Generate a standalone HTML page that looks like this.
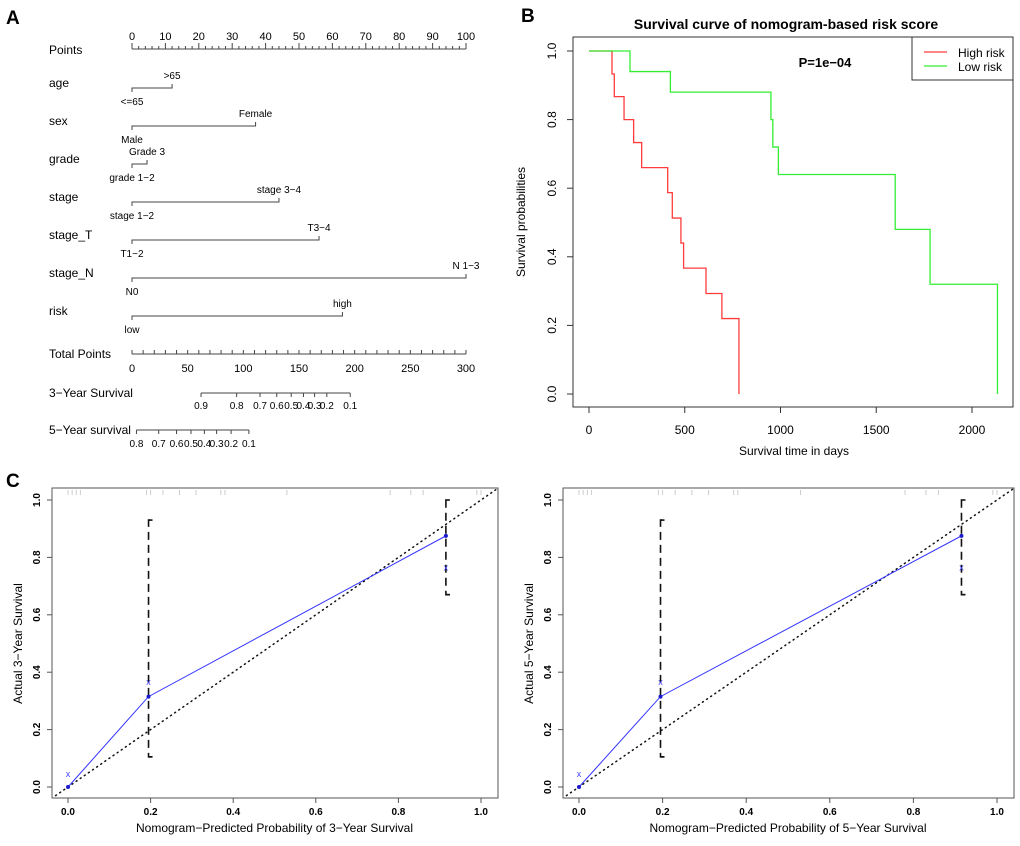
<!DOCTYPE html>
<html><head><meta charset="utf-8"><style>
body{margin:0;background:#fff}
svg{display:block;font-family:"Liberation Sans",Arial,sans-serif}
</style></head><body>
<svg id="s" width="1020" height="846" viewBox="0 0 1020 846" xmlns="http://www.w3.org/2000/svg">
<text x="6" y="24" font-size="19" font-weight="bold">A</text>
<text x="521" y="22" font-size="19" font-weight="bold">B</text>
<text x="6" y="487" font-size="19" font-weight="bold">C</text>
<g id="nomo"></g>
<g id="km"></g>
<g id="cal1"></g>
<g id="cal2"></g>
</svg>
<script>
// ---- Nomogram data ----
const nomoVars = ["age","sex","grade","stage","stage_T","stage_N","risk"];
const nomoLow = ["<=65","Male","grade 1\u22122","stage 1\u22122","T1\u22122","N0","low"];
const nomoHigh = [">65","Female","Grade 3","stage 3\u22124","T3\u22124","N 1\u22123","high"];
const nomoPoints = [12, 37, 4.5, 44, 56, 100, 63];
const surv3Labels = ["0.9","0.8","0.7","0.6","0.5","0.4","0.3","0.2","0.1"];
const surv3Total = [62, 94, 115, 130, 143, 154, 164, 175, 196];
const surv5Labels = ["0.8","0.7","0.6","0.5","0.4","0.3","0.2","0.1"];
const surv5Total = [4, 24, 40, 53, 65, 76, 89, 105];
// ---- KM data ----
const highT = [0,120,132,183,233,275,411,435,480,494,611,694,783];
const highS = [1,0.933,0.867,0.8,0.733,0.66,0.587,0.513,0.44,0.367,0.293,0.22,0];
const lowT = [0,214,425,950,960,989,1599,1781,2133];
const lowS = [1,0.94,0.88,0.8,0.72,0.64,0.48,0.32,0];
const kmXTicks = [0,500,1000,1500,2000];
const kmYTicks = [0,0.2,0.4,0.6,0.8,1.0];
// ---- Calibration data ----
const calPred = [0.0, 0.195, 0.915];
const calObs = [0.0, 0.315, 0.875];
const calCorr = [0.045, 0.365, 0.765];
const calLo = [null, 0.105, 0.67];
const calHi = [null, 0.93, 1.0];
const calTicks = [0,0.2,0.4,0.6,0.8,1.0];
const rug = [0,0.01,0.02,0.03,0.19,0.2,0.23,0.27,0.31,0.37,0.38,0.53,0.78,0.83,0.86,0.99,1.0];

const NS="http://www.w3.org/2000/svg";
function mk(p,tag,a,txt){const e=document.createElementNS(NS,tag);for(const k in a)e.setAttribute(k,a[k]);if(txt!=null)e.textContent=txt;p.appendChild(e);return e;}
function f(v){return (Math.round(v*10)/10).toFixed(1);}

// ---- Nomogram ----
(function(){
const g=document.getElementById('nomo');
const px=p=>132+p*3.34, tx=t=>132+t*334/300;
const fs=11;
// Points axis
let t=mk(g,'text',{x:49,y:54,'font-size':12});


t.textContent='Points';
mk(g,'line',{x1:px(0),y1:49,x2:px(100),y2:49,stroke:'#444'});
for(let i=0;i<=50;i++){const v=i*2;mk(g,'line',{x1:px(v),y1:49,x2:px(v),y2:v%10==0?43:46,stroke:'#444'});}
for(let v=0;v<=100;v+=10){const e=mk(g,'text',{x:px(v),y:40,'font-size':fs,'text-anchor':'middle'},String(v));

}
nomoVars.forEach((n,i)=>{
 const y=88+i*38;
 const lab=mk(g,'text',{x:49,y:y-1,'font-size':12},n);
 
 
 const x2=px(nomoPoints[i]);
 const ln=mk(g,'path',{d:`M${px(0)} ${y+4}V${y}H${x2}V${y-4}`,fill:'none',stroke:'#444'});
 
 
 mk(g,'text',{x:px(0),y:y+17,'font-size':fs-1,'text-anchor':'middle'},nomoLow[i]);
 mk(g,'text',{x:x2,y:y-9,'font-size':fs-1,'text-anchor':'middle'},nomoHigh[i]);
});
// Total points
let y=354;
t=mk(g,'text',{x:49,y:358,'font-size':12},'Total Points');


mk(g,'line',{x1:tx(0),y1:y,x2:tx(300),y2:y,stroke:'#444'});
for(let v=0;v<=300;v+=10)mk(g,'line',{x1:tx(v),y1:y,x2:tx(v),y2:y-4,stroke:'#444'});
for(let v=0;v<=300;v+=50)mk(g,'text',{x:tx(v),y:372,'font-size':fs,'text-anchor':'middle'},String(v));
// 3-year
y=393;
t=mk(g,'text',{x:49,y:397,'font-size':12},'3\u2212Year Survival');


mk(g,'line',{x1:tx(surv3Total[0]),y1:y,x2:tx(surv3Total[surv3Total.length-1]),y2:y,stroke:'#444'});
surv3Total.forEach((v,i)=>{mk(g,'line',{x1:tx(v),y1:y,x2:tx(v),y2:y+4,stroke:'#444'});mk(g,'text',{x:tx(v),y:409,'font-size':fs-1,'text-anchor':'middle'},surv3Labels[i]);});
// 5-year
y=430;
t=mk(g,'text',{x:49,y:434,'font-size':12},'5\u2212Year survival');


mk(g,'line',{x1:tx(surv5Total[0]),y1:y,x2:tx(surv5Total[surv5Total.length-1]),y2:y,stroke:'#444'});
surv5Total.forEach((v,i)=>{mk(g,'line',{x1:tx(v),y1:y,x2:tx(v),y2:y+4,stroke:'#444'});mk(g,'text',{x:tx(v),y:447,'font-size':fs-1,'text-anchor':'middle'},surv5Labels[i]);});
})();

// ---- KM ----
(function(){
const g=document.getElementById('km');
const X=d=>589+d*0.1915, Y=s=>394-s*343;
mk(g,'rect',{x:573,y:37,width:440,height:370,fill:'none',stroke:'#333','stroke-width':1});
let t=mk(g,'text',{x:786,y:29,'font-size':14,'font-weight':'bold','text-anchor':'middle'},'Survival curve of nomogram-based risk score');


mk(g,'line',{x1:X(0),y1:407,x2:X(2000),y2:407,stroke:'#333'});
kmXTicks.forEach(v=>{mk(g,'line',{x1:X(v),y1:407,x2:X(v),y2:413,stroke:'#333'});mk(g,'text',{x:X(v),y:434,'font-size':12,'text-anchor':'middle'},String(v));});
mk(g,'line',{x1:573,y1:Y(0),x2:573,y2:Y(1),stroke:'#333'});
kmYTicks.forEach(v=>{mk(g,'line',{x1:573,y1:Y(v),x2:567,y2:Y(v),stroke:'#333'});mk(g,'text',{x:556,y:Y(v),'font-size':12,'text-anchor':'middle',transform:`rotate(-90 556 ${Y(v)})`},f(v));});
t=mk(g,'text',{x:525,y:222,'font-size':12,'text-anchor':'middle',transform:'rotate(-90 525 222)'},'Survival probabilities');


t=mk(g,'text',{x:794,y:455,'font-size':12,'text-anchor':'middle'},'Survival time in days');


function step(T,S){let d=`M${X(T[0])} ${Y(S[0])}`;for(let i=1;i<T.length;i++){d+=`H${X(T[i])}V${Y(S[i])}`;}return d;}
let p=mk(g,'path',{d:step(highT,highS),fill:'none',stroke:'#ff3b3b','stroke-width':1.3});


p=mk(g,'path',{d:step(lowT,lowS),fill:'none',stroke:'#33ee33','stroke-width':1.3});


t=mk(g,'text',{x:825,y:67,'font-size':13,'font-weight':'bold','text-anchor':'middle'},'P=1e\u221204');


const lg=mk(g,'g',{});


mk(lg,'rect',{x:912,y:37,width:101,height:43,fill:'#fff',stroke:'#333'});
mk(lg,'line',{x1:924,y1:52,x2:947,y2:52,stroke:'#ff3b3b','stroke-width':1.3});
mk(lg,'line',{x1:924,y1:66,x2:947,y2:66,stroke:'#33ee33','stroke-width':1.3});
mk(lg,'text',{x:958,y:57,'font-size':12},'High risk');
mk(lg,'text',{x:958,y:71,'font-size':12},'Low risk');
})();

// ---- Calibration ----
function cal(id,x0,x1,bx0,bx1,n){
const g=document.getElementById(id);
const X=v=>x0+v*(x1-x0), Y=v=>787-v*287;
const by0=488,by1=798;
mk(g,'rect',{x:bx0,y:by0,width:bx1-bx0,height:by1-by0,fill:'none',stroke:'#555','stroke-width':1});
rug.forEach(v=>mk(g,'line',{x1:X(v),y1:by0+2,x2:X(v),y2:by0+7,stroke:'#ccc'}));
mk(g,'line',{x1:bx0,y1:by1,x2:bx1,y2:by1,stroke:'#555'});
calTicks.forEach(v=>{mk(g,'line',{x1:X(v),y1:by1,x2:X(v),y2:by1+5,stroke:'#555'});mk(g,'text',{x:X(v),y:by1+17,'font-size':10,'font-weight':'bold','text-anchor':'middle'},f(v));});
calTicks.forEach(v=>{mk(g,'line',{x1:bx0,y1:Y(v),x2:bx0-5,y2:Y(v),stroke:'#555'});const tx=bx0-12;mk(g,'text',{x:tx,y:Y(v),'font-size':10,'font-weight':'bold','text-anchor':'middle',transform:`rotate(-90 ${tx} ${Y(v)})`},f(v));});
let t=mk(g,'text',{x:bx0-30,y:Y(0.5),'font-size':12,'text-anchor':'middle',transform:`rotate(-90 ${bx0-30} ${Y(0.5)})`},`Actual ${n}\u2212Year Survival`);


t=mk(g,'text',{x:X(0.5),y:by1+34,'font-size':12,'text-anchor':'middle'},`Nomogram\u2212Predicted Probability of ${n}\u2212Year Survival`);


let d=mk(g,'line',{x1:X(-0.03),y1:Y(-0.03),x2:X(1.04),y2:Y(1.04),stroke:'#111','stroke-width':1.5,'stroke-dasharray':'1 4','stroke-linecap':'round'});


calPred.forEach((p,i)=>{if(calLo[i]==null)return;
 const e=mk(g,'path',{d:`M${X(p)+4} ${Y(calLo[i])}H${X(p)}V${Y(calHi[i])}H${X(p)+4}`,fill:'none',stroke:'#111','stroke-width':1.6,'stroke-dasharray':'8 5'});
 
 
 mk(g,'line',{x1:X(p),y1:Y(calLo[i]),x2:X(p)+4,y2:Y(calLo[i]),stroke:'#111','stroke-width':1.6});
 mk(g,'line',{x1:X(p),y1:Y(calHi[i]),x2:X(p)+4,y2:Y(calHi[i]),stroke:'#111','stroke-width':1.6});
});
let l=mk(g,'polyline',{points:calPred.map((p,i)=>X(p)+','+Y(calObs[i])).join(' '),fill:'none',stroke:'#3333ff','stroke-width':1});


calPred.forEach((p,i)=>{const c=mk(g,'circle',{cx:X(p),cy:Y(calObs[i]),r:2,fill:'#1a1acc'});
 
 
 const m=mk(g,'text',{x:X(p),y:Y(calCorr[i])+3,'font-size':9,fill:'#4444ff','text-anchor':'middle'},'x');
 
 });
}
cal('cal1',68,481,52,498,3);
cal('cal2',579,997,563,1014,5);
</script>
</body></html>
